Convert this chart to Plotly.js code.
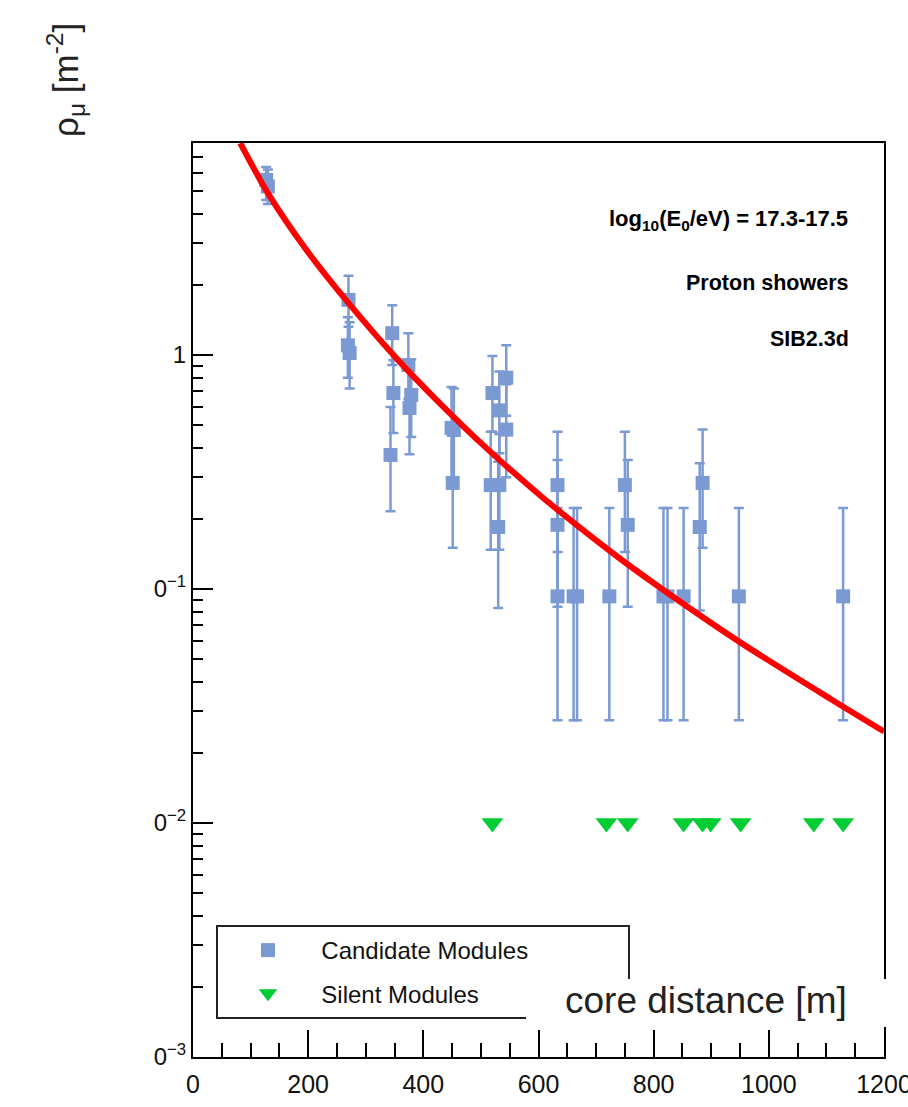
<!DOCTYPE html>
<html>
<head>
<meta charset="utf-8">
<script src="https://cdn.plot.ly/plotly-3.0.1.min.js"></script>
<style>html,body{margin:0;padding:0;background:#fff;}#chart{width:908px;height:1107px;}</style>
</head>
<body>
<div id="chart"></div>
<script>
// ---- data ----
var candX     = [127, 130, 270, 269, 272, 346, 348, 343, 374, 379, 376, 449, 453, 451, 520, 532, 544, 544, 517, 532, 530, 633, 633, 633, 661, 667, 723, 750, 755, 817, 824, 852, 885, 880, 948, 1129];
var candY     = [5.6, 5.25, 1.72, 1.10, 1.02, 1.24, 0.688, 0.374, 0.906, 0.675, 0.594, 0.488, 0.478, 0.284, 0.688, 0.58, 0.80, 0.48, 0.278, 0.278, 0.184, 0.278, 0.188, 0.093, 0.093, 0.093, 0.093, 0.278, 0.188, 0.093, 0.093, 0.093, 0.284, 0.184, 0.093, 0.093];
var candLow   = [4.6, 4.42, 1.32, 0.80, 0.72, 0.906, 0.464, 0.215, 0.65, 0.446, 0.377, 0.29, 0.30, 0.15, 0.47, 0.38, 0.55, 0.30, 0.147, 0.147, 0.083, 0.144, 0.084, 0.0275, 0.0275, 0.0275, 0.0275, 0.144, 0.084, 0.0275, 0.0275, 0.0275, 0.15, 0.081, 0.0275, 0.0275];
var candHigh  = [6.36, 6.2, 2.18, 1.45, 1.38, 1.63, 0.95, 0.60, 1.24, 0.96, 0.86, 0.73, 0.72, 0.47, 0.99, 0.85, 1.10, 0.75, 0.47, 0.46, 0.35, 0.47, 0.356, 0.222, 0.222, 0.222, 0.222, 0.47, 0.356, 0.222, 0.222, 0.222, 0.48, 0.345, 0.222, 0.222];

var silentX   = [520, 718, 755, 852, 885, 899, 951, 1078, 1129];
var silentY   = [0.01, 0.01, 0.01, 0.01, 0.01, 0.01, 0.01, 0.01, 0.01];

var fitX      = [82, 130, 198, 268, 355, 430, 511, 603, 673, 743, 812, 951, 1108, 1200];
var fitY      = [8.05, 4.92, 2.79, 1.69, 0.958, 0.617, 0.397, 0.251, 0.182, 0.134, 0.101, 0.059, 0.0338, 0.0246];

var xTickVals = [0, 200, 400, 600, 800, 1000, 1200];
var xTickText = ['0', '200', '400', '600', '800', '1000', '1200'];
var yTickVals = [0.001, 0.01, 0.1, 1];
var yTickText = ['0<sup>\u22123</sup>', '0<sup>\u22122</sup>', '0<sup>\u22121</sup>', '1'];

var legendNames = ['Candidate Modules', 'Silent Modules'];
var infoTexts = ['log<sub>10</sub>(E<sub>0</sub>/eV) = 17.3-17.5', 'Proton showers', 'SIB2.3d'];
var xTitle = 'core distance [m]';
var yTitle = '\u03c1<sub>\u03bc</sub> [m<sup>-2</sup>]';

// ---- derived ----
var errPlus = candY.map(function (v, i) { return candHigh[i] - v; });
var errMinus = candY.map(function (v, i) { return v - candLow[i]; });
var minorVals = [];
[0.001, 0.01, 0.1, 1].forEach(function (d) { for (var k = 2; k <= 9; k++) minorVals.push(d * k); });

var FONT = 'Liberation Sans, Arial, Helvetica, sans-serif';
var blue = '#7b9ad3';
var green = '#00cc33';
var pad = '\u00a0\u00a0\u00a0\u00a0\u00a0';

var traces = [
  {
    x: candX, y: candY, type: 'scatter', mode: 'markers', name: pad + legendNames[0],
    legendgroup: 'a',
    marker: { symbol: 'square', size: 14, color: blue },
    error_y: { type: 'data', symmetric: false, array: errPlus, arrayminus: errMinus, color: blue, thickness: 2.5, width: 5 }
  },
  {
    x: silentX, y: silentY, type: 'scatter', mode: 'markers', name: pad + legendNames[1],
    legendgroup: 'b',
    marker: { symbol: 'triangle-down', size: 19, color: green }
  },
  {
    x: fitX, y: fitY, type: 'scatter', mode: 'lines', showlegend: false,
    line: { color: '#ff0000', width: 6, shape: 'spline', smoothing: 0.8 }
  }
];

var L = 193, R = 884, T = 143, B = 1057, W = 908, H = 1107;
function px2x(p) { return (p - L) / (R - L); }
function px2y(p) { return (B - p) / (B - T); }

var layout = {
  width: W, height: H,
  margin: { l: L, r: W - R, t: T, b: H - B },
  paper_bgcolor: '#fff', plot_bgcolor: '#fff',
  font: { family: FONT, color: '#000' },
  showlegend: true,
  legend: {
    x: px2x(248), y: px2y(928), xanchor: 'left', yanchor: 'top',
    bgcolor: 'rgba(0,0,0,0)', borderwidth: 0,
    font: { size: 24, family: FONT, color: '#111' },
    traceorder: 'grouped', tracegroupgap: 9
  },
  xaxis: {
    range: [0, 1200], showgrid: false, zeroline: false,
    showline: true, linecolor: '#000', linewidth: 2, mirror: true,
    tickmode: 'array', tickvals: xTickVals, ticktext: xTickText,
    ticks: 'inside', ticklen: 27, tickwidth: 2, tickcolor: '#000',
    ticklabeloverflow: 'allow', ticklabelstandoff: 4,
    tickfont: { size: 25, family: FONT, color: '#111' },
    minor: { tickmode: 'linear', tick0: 0, dtick: 50, ticks: 'inside', ticklen: 14, tickwidth: 2, tickcolor: '#000', showgrid: false }
  },
  yaxis: {
    type: 'log', range: [-3, 0.906], showgrid: false, zeroline: false,
    showline: true, linecolor: '#000', linewidth: 2, mirror: true,
    tickmode: 'array', tickvals: yTickVals, ticktext: yTickText,
    ticks: 'inside', ticklen: 20, tickwidth: 2, tickcolor: '#000',
    tickfont: { size: 24, family: FONT, color: '#111' },
    minor: { tickmode: 'array', tickvals: minorVals, ticks: 'inside', ticklen: 10, tickwidth: 2, tickcolor: '#000', showgrid: false }
  },
  shapes: [
    { type: 'rect', xref: 'paper', yref: 'paper', x0: px2x(217), x1: px2x(629), y0: px2y(1018), y1: px2y(926),
      line: { color: '#222', width: 2 }, fillcolor: 'rgba(0,0,0,0)', layer: 'above' },
    { type: 'rect', xref: 'paper', yref: 'paper', x0: px2x(526), x1: px2x(912), y0: px2y(1027), y1: px2y(979),
      line: { width: 0 }, fillcolor: '#ffffff', layer: 'above' }
  ],
  annotations: [
    { xref: 'paper', yref: 'paper', x: px2x(850), y: px2y(220), xanchor: 'right', yanchor: 'middle', showarrow: false,
      text: '<b>' + infoTexts[0] + '</b>', font: { size: 22, family: FONT, color: '#000' } },
    { xref: 'paper', yref: 'paper', x: px2x(851), y: px2y(283), xanchor: 'right', yanchor: 'middle', showarrow: false,
      text: '<b>' + infoTexts[1] + '</b>', font: { size: 21.5, family: FONT, color: '#000' } },
    { xref: 'paper', yref: 'paper', x: px2x(851), y: px2y(339), xanchor: 'right', yanchor: 'middle', showarrow: false,
      text: '<b>' + infoTexts[2] + '</b>', font: { size: 21.5, family: FONT, color: '#000' } },
    { xref: 'paper', yref: 'paper', x: px2x(706), y: px2y(1000), xanchor: 'center', yanchor: 'middle', showarrow: false,
      text: xTitle, font: { size: 37, family: FONT, color: '#222' } },
    { xref: 'paper', yref: 'paper', x: px2x(66), y: px2y(80), xanchor: 'center', yanchor: 'middle', showarrow: false,
      textangle: -90, text: yTitle, font: { size: 35, family: FONT, color: '#222' } }
  ]
};

Plotly.newPlot('chart', traces, layout, { displayModeBar: false, staticPlot: true });
</script>
</body>
</html>
